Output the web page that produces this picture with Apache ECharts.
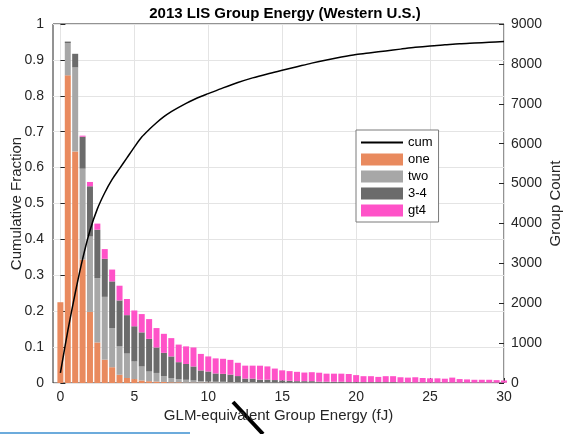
<!DOCTYPE html>
<html lang="en">
<head>
    <meta charset="UTF-8">
    <title>index</title>
    <script src="https://cdn.jsdelivr.net/npm/echarts@6/dist/echarts.min.js"></script>
    <style>
        html, body { margin: 0; padding: 0; background: #fff; }
        #main { width: 563px; height: 434px; }
    </style>
</head>
<body>
<div id="main"></div>

<script type="text/javascript">
    // bin centres (fJ), 0.5 fJ bins
    var binCenters = [0, 0.5, 1, 1.5, 2, 2.5, 3, 3.5, 4, 4.5, 5, 5.5, 6, 6.5, 7, 7.5, 8, 8.5, 9, 9.5,
        10, 10.5, 11, 11.5, 12, 12.5, 13, 13.5, 14, 14.5, 15, 15.5, 16, 16.5, 17, 17.5, 18, 18.5, 19, 19.5,
        20, 20.5, 21, 21.5, 22, 22.5, 23, 23.5, 24, 24.5, 25, 25.5, 26, 26.5, 27, 27.5, 28, 28.5, 29, 29.5, 30];

    // group counts per bin
    var one = [2025, 7713, 5805, 3096, 1782, 1017, 585, 396, 207, 126, 99, 63, 45, 36, 27, 18, 18, 9, 9, 9,
        9, 5, 4, 4, 3, 3, 3, 2, 2, 2, 2, 1, 1, 1, 1, 1, 0, 0, 0, 0,
        0, 0, 0, 0, 0, 0, 0, 0, 0, 0, 0, 0, 0, 0, 0, 0, 0, 0, 0, 0, 0];
    var two = [0, 810, 2106, 2277, 1890, 1611, 1575, 981, 711, 612, 441, 351, 243, 216, 144, 108, 81, 72, 54, 36,
        27, 27, 27, 18, 18, 18, 18, 9, 9, 9, 9, 9, 9, 9, 9, 5, 5, 5, 4, 4,
        4, 3, 3, 3, 3, 3, 2, 2, 2, 2, 2, 2, 2, 2, 1, 1, 1, 1, 1, 1, 1];
    var three4 = [0, 36, 342, 801, 1260, 1215, 954, 1170, 1152, 963, 882, 855, 819, 639, 585, 540, 423, 396, 351, 270,
        252, 207, 198, 189, 153, 90, 90, 72, 72, 63, 54, 45, 36, 36, 36, 27, 27, 27, 27, 18,
        18, 18, 18, 18, 18, 18, 9, 9, 9, 9, 9, 9, 9, 9, 9, 9, 9, 9, 9, 9, 9];
    var gt4 = [0, 0, 0, 27, 108, 153, 243, 297, 369, 405, 396, 459, 495, 486, 477, 459, 441, 441, 477, 414,
        378, 378, 378, 369, 333, 324, 324, 351, 333, 288, 252, 243, 234, 216, 225, 225, 202, 202, 203, 203,
        176, 150, 150, 132, 150, 150, 133, 124, 133, 115, 106, 106, 97, 124, 89, 80, 71, 71, 71, 62, 53];

    // cumulative fraction curve
    var cumX = [0, 0.5, 1, 1.5, 2, 2.5, 3, 3.5, 4, 4.5, 5, 5.5, 6, 6.5, 7, 7.5, 8, 8.5, 9, 9.5,
        10, 11, 12, 13, 14, 15, 16, 17, 18, 19, 20, 21, 22, 23, 24, 25, 26, 27, 28, 29, 30];
    var cumY = [0.028, 0.145, 0.25, 0.345, 0.425, 0.485, 0.53, 0.567, 0.597, 0.627, 0.657, 0.685, 0.706, 0.725, 0.742, 0.756, 0.768, 0.779, 0.789, 0.798,
        0.806, 0.822, 0.837, 0.85, 0.861, 0.871, 0.881, 0.891, 0.9, 0.908, 0.915, 0.92, 0.925, 0.93, 0.935, 0.939, 0.942, 0.945, 0.947, 0.949, 0.951];

    var xTicks = [0, 5, 10, 15, 20, 25, 30];

    var font = 'Liberation Sans, Arial, sans-serif';
    var txt = '#262626';

    function barSeries(name, data, color) {
        // value first so the stack runs on the count, not on x
        return {
            name: name,
            type: 'bar',
            stack: 'grp',
            xAxisIndex: 0,
            yAxisIndex: 1,
            barWidth: 6,
            encode: { x: 1, y: 0 },
            itemStyle: { color: color },
            data: data.map(function (v, i) { return [v, binCenters[i]]; })
        };
    }

    var myChart = echarts.init(document.getElementById('main'));

    var option = {
        animation: false,
        textStyle: { fontFamily: font },
        title: {
            text: '2013 LIS Group Energy (Western U.S.)',
            left: 280,
            textAlign: 'center',
            top: 1,
            textStyle: { fontSize: 15, fontWeight: 'bold', color: '#000', fontFamily: font }
        },
        grid: {
            left: 53, right: 59, top: 24, bottom: 51,
            outerBoundsMode: 'none',
            show: true, borderColor: '#262626', borderWidth: 1, backgroundColor: 'transparent'
        },
        legend: {
            orient: 'vertical',
            left: 356, top: 130,
            itemWidth: 42, itemHeight: 12, itemGap: 4,
            padding: [6, 6, 5, 4],
            backgroundColor: '#fff',
            borderColor: '#7a7a7a', borderWidth: 1,
            textStyle: { fontSize: 13, color: '#000', fontFamily: font },
            data: [
                { name: 'cum', itemStyle: { opacity: 0 } },
                { name: 'one', icon: 'rect' },
                { name: 'two', icon: 'rect' },
                { name: '3-4', icon: 'rect' },
                { name: 'gt4', icon: 'rect' }
            ]
        },
        xAxis: {
            type: 'value',
            min: -0.5, max: 30,
            name: 'GLM-equivalent Group Energy (fJ)',
            nameLocation: 'middle', nameGap: 25, nameMoveOverlap: false,
            nameTextStyle: { fontSize: 15, color: txt },
            axisLine: { show: false },
            axisTick: { inside: true, length: 5, customValues: xTicks, lineStyle: { color: '#262626' } },
            axisLabel: { customValues: xTicks, fontSize: 14, color: txt, margin: 7 },
            splitLine: { show: true, lineStyle: { color: '#e4e4e4' } }
        },
        yAxis: [{
            type: 'value',
            min: 0, max: 1, interval: 0.1,
            name: 'Cumulative Fraction',
            nameLocation: 'middle', nameGap: 29, nameMoveOverlap: false,
            nameTextStyle: { fontSize: 15, color: txt },
            axisLine: { show: false },
            axisTick: { show: true, inside: true, length: 5, lineStyle: { color: '#262626' } },
            axisLabel: { fontSize: 14, color: txt, margin: 9 },
            splitLine: { show: true, lineStyle: { color: '#e4e4e4' } }
        }, {
            type: 'value',
            min: 0, max: 9000, interval: 1000,
            name: 'Group Count',
            nameLocation: 'middle', nameGap: 44, nameMoveOverlap: false,
            nameTextStyle: { fontSize: 15, color: txt },
            axisLine: { show: false },
            axisTick: { show: true, inside: true, length: 5, lineStyle: { color: '#262626' } },
            axisLabel: { fontSize: 14, color: txt, margin: 7, formatter: function (v) { return String(v); } },
            splitLine: { show: false }
        }],
        series: [
            barSeries('one', one, '#e98a5e'),
            barSeries('two', two, '#a7a7a7'),
            barSeries('3-4', three4, '#6b6b6b'),
            barSeries('gt4', gt4, '#ff52c8'),
            {
                name: 'cum',
                type: 'line',
                yAxisIndex: 0,
                smooth: 0.3,
                symbol: 'none',
                z: 5,
                lineStyle: { color: '#000', width: 1.5 },
                itemStyle: { color: '#000' },
                data: cumX.map(function (x, i) { return [x, cumY[i]]; })
            }
        ],
        graphic: [
            { type: 'line', shape: { x1: 233, y1: 402, x2: 263, y2: 434 }, style: { stroke: '#000', lineWidth: 4 } },
            { type: 'line', shape: { x1: 0, y1: 433, x2: 190, y2: 433 }, style: { stroke: '#3b8fd0', lineWidth: 1.5 } }
        ]
    };

    myChart.setOption(option);
</script>
</body>
</html>
